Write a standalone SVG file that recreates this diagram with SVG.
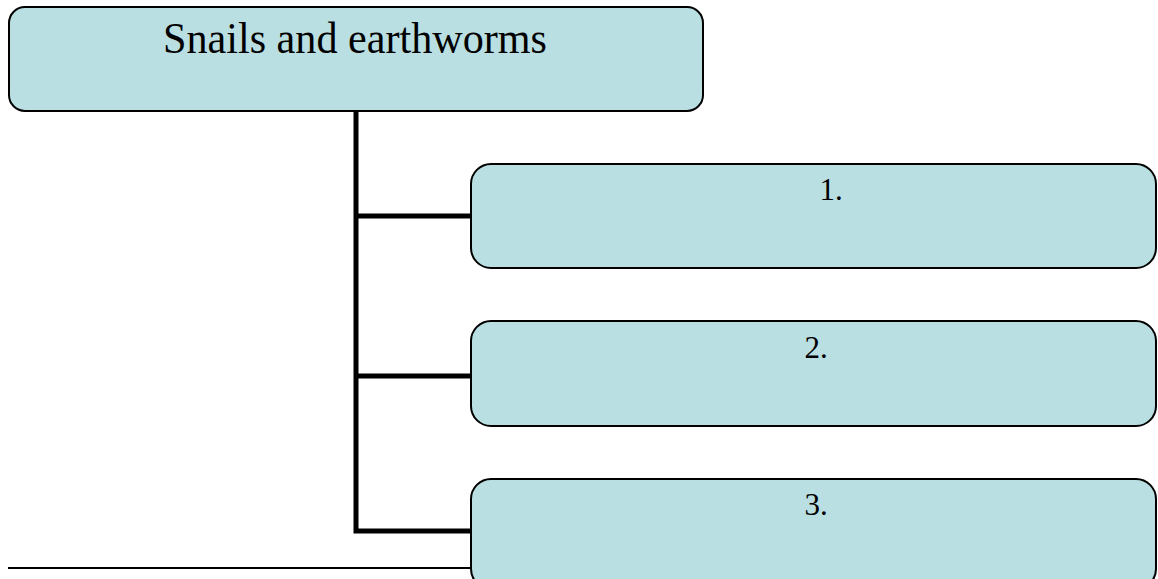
<svg xmlns="http://www.w3.org/2000/svg" width="1158" height="579" viewBox="0 0 1158 579">
<style>
.box{fill:#B9DFE2;stroke:#000;stroke-width:2}
.conn{fill:none;stroke:#000;stroke-width:5}
.t{font-family:"Liberation Serif","Times New Roman",serif;fill:#000;text-anchor:middle}
</style>
<rect width="1158" height="579" fill="#fff"/>
<line x1="8" y1="568" x2="480" y2="568" stroke="#000" stroke-width="2"/>
<g id="connectors">
<path class="conn" d="M356 111 V531 H472"/>
<path class="conn" d="M356 216 H472"/>
<path class="conn" d="M356 376 H472"/>
</g>
<g id="root">
<rect class="box" x="9" y="7" width="694" height="104" rx="16"/>
<text class="t" x="355" y="53" font-size="44" textLength="384" lengthAdjust="spacingAndGlyphs">Snails and earthworms</text>
</g>
<g id="n1">
<rect class="box" x="471" y="164" width="685" height="104" rx="20"/>
<text class="t" x="831" y="200" font-size="31">1.</text>
</g>
<g id="n2">
<rect class="box" x="471" y="321" width="685" height="105" rx="20"/>
<text class="t" x="816" y="358" font-size="31">2.</text>
</g>
<g id="n3">
<rect class="box" x="471" y="479" width="685" height="110" rx="20"/>
<text class="t" x="816" y="515" font-size="31">3.</text>
</g>
</svg>
